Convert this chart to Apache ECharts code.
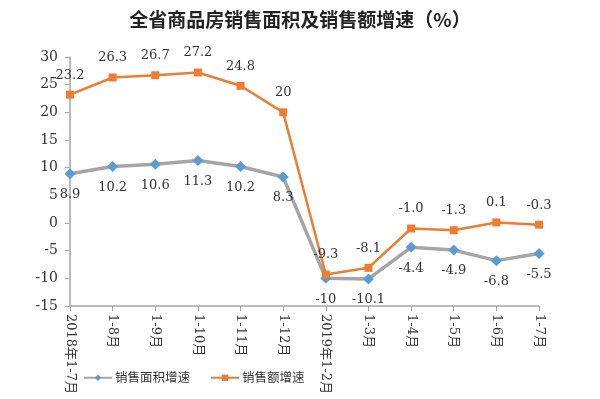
<!DOCTYPE html>
<html><head><meta charset="utf-8">
<script src="https://cdn.jsdelivr.net/npm/echarts@6/dist/echarts.min.js"></script>
<style>html,body{margin:0;padding:0;background:#fff}#c{width:600px;height:399px}</style>
</head><body><div id="c"></div>
<script>
const categories = ['2018年1-7月','1-8月','1-9月','1-10月','1-11月','1-12月','2019年1-2月','1-3月','1-4月','1-5月','1-6月','1-7月'];
const areaGrowth = [8.9, 10.2, 10.6, 11.3, 10.2, 8.3, -10, -10.1, -4.4, -4.9, -6.8, -5.5];
const salesGrowth = [23.2, 26.3, 26.7, 27.2, 24.8, 20, -9.3, -8.1, -1.0, -1.3, 0.1, -0.3];
const salesLabels = ['23.2','26.3','26.7','27.2','24.8','20','-9.3','-8.1','-1.0','-1.3','0.1','-0.3'];
const areaLabels = ['8.9','10.2','10.6','11.3','10.2','8.3','-10','-10.1','-4.4','-4.9','-6.8','-5.5'];
const FF = '"DejaVu Serif", "Noto Sans CJK SC", serif';
const chart = echarts.init(document.getElementById('c'));
chart.setOption({
  animation: false,
  backgroundColor: '#fff',
  textStyle: { fontFamily: FF },
  title: {
    text: '全省商品房销售面积及销售额增速（%）',
    left: 'center', top: 5,
    textStyle: { fontFamily: '"Noto Sans CJK SC", sans-serif', fontSize: 19, fontWeight: 'bold', color: '#222' }
  },
  legend: {
    bottom: 10, left: 78, itemWidth: 28, itemHeight: 8, itemGap: 20,
    textStyle: { fontFamily: '"Noto Sans CJK SC", sans-serif', fontSize: 12.5, color: '#333', padding: [0,0,0,-2] },
    data: ['销售面积增速', '销售额增速']
  },
  grid: { left: 70, right: 61, top: 57, bottom: 93 },
  xAxis: {
    type: 'category', data: categories, boundaryGap: false,
    axisLine: { onZero: false, lineStyle: { color: '#A6A6A6', width: 1.5 } },
    axisTick: { show: true, alignWithLabel: true, length: 5, lineStyle: { color: '#A6A6A6' } },
    axisLabel: { rotate: -90, interval: 0, margin: 8, fontSize: 13, color: '#333', fontFamily: FF }
  },
  yAxis: {
    type: 'value', min: -15, max: 30, interval: 5,
    axisLine: { show: true, lineStyle: { color: '#A6A6A6', width: 1.5 } },
    axisTick: { show: true, length: 5, lineStyle: { color: '#A6A6A6' } },
    splitLine: { show: false },
    axisLabel: { fontSize: 14, color: '#333', margin: 12, fontFamily: FF }
  },
  series: [
    {
      name: '销售面积增速', type: 'line', data: areaGrowth,
      symbol: 'diamond', symbolSize: 11,
      lineStyle: { color: '#A5A5A5', width: 3.5 },
      itemStyle: { color: '#5B9BD5' },
      label: { show: true, position: 'bottom', distance: 9, fontSize: 13, color: '#333', fontFamily: FF,
        formatter: p => areaLabels[p.dataIndex] }
    },
    {
      name: '销售额增速', type: 'line', data: salesGrowth,
      symbol: 'rect', symbolSize: 8,
      lineStyle: { color: '#ED7D31', width: 2.5 },
      itemStyle: { color: '#ED7D31' },
      label: { show: true, position: 'top', distance: 9, fontSize: 13, color: '#333', fontFamily: FF,
        formatter: p => salesLabels[p.dataIndex] }
    }
  ]
});
</script></body></html>
